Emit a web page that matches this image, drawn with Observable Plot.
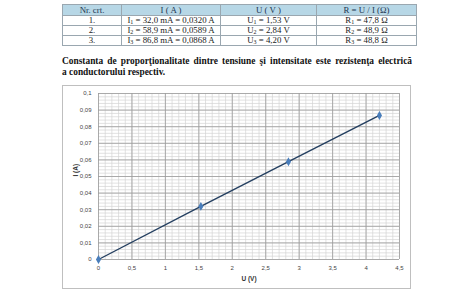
<!DOCTYPE html>
<html><head><meta charset="utf-8">
<script src="https://cdn.jsdelivr.net/npm/d3@7"></script>
<script src="https://cdn.jsdelivr.net/npm/@observablehq/plot@0.6"></script>
<style>
html,body{margin:0;padding:0;background:#fff;width:474px;height:294px;overflow:hidden;}
#tbl{position:absolute;left:62px;top:4px;border-collapse:collapse;font-family:"Liberation Serif",serif;font-size:8.8px;color:#222;}
#tbl td,#tbl th{border:1px solid #9aa7b0;padding:0;height:9px;line-height:9px;text-align:center;font-weight:normal;}
#tbl th{background:#b7d7e6;color:#1c3550;height:10px;}
#tbl sub{font-size:6px;vertical-align:-1px;line-height:0;}
#txt{position:absolute;left:62px;top:56px;width:350px;font-family:"Liberation Serif",serif;font-weight:bold;font-size:9.4px;line-height:11px;color:#111;}
#l1{text-align:justify;text-align-last:justify;white-space:nowrap;}
#frame{position:absolute;left:62px;top:85px;width:347px;height:202px;border:1px solid #bfbfbf;}
#frame svg{display:block;}
</style></head><body>
<table id="tbl"></table>
<div id="txt"><div id="l1">Constanta de proporţionalitate dintre tensiune şi intensitate este rezistenţa electrică</div><div>a conductorului respectiv.</div></div>
<div id="frame"></div>
<script>
const nrs = ["1.", "2.", "3."];
const currents_mA = ["32,0", "58,9", "86,8"];
const currents_A = [0.0320, 0.0589, 0.0868];
const voltages = [1.53, 2.84, 4.20];
const resistances = ["47,8", "48,9", "48,8"];
const headers = ["Nr. crt.", "I ( A )", "U ( V )", "R = U / I (Ω)"];
const colWidths = [58, 98, 95, 99];
const xTicks = [0, 0.5, 1, 1.5, 2, 2.5, 3, 3.5, 4, 4.5];
const yTicks = [0, 0.01, 0.02, 0.03, 0.04, 0.05, 0.06, 0.07, 0.08, 0.09, 0.1];

// table
const tbl = document.getElementById("tbl");
let h = "<tr>" + headers.map((t,i)=>`<th style="width:${colWidths[i]}px">${t}</th>`).join("") + "</tr>";
nrs.forEach((n,i)=>{
  const k = i+1;
  const a = currents_A[i].toFixed(4).replace(".", ",");
  const u = voltages[i].toFixed(2).replace(".", ",");
  h += `<tr><td>${n}</td><td>I<sub>${k}</sub> = ${currents_mA[i]} mA = ${a} A</td><td>U<sub>${k}</sub> = ${u} V</td><td>R<sub>${k}</sub> = ${resistances[i]} Ω</td></tr>`;
});
tbl.innerHTML = h;

// chart data: origin plus measurements
const pts = [{u:0, i:0}].concat(voltages.map((v,k)=>({u:v, i:currents_A[k]})));
const comma = d => String(+d.toFixed(3)).replace(".", ",");
const minorX = d3.range(0, 4.5001, 0.1);
const minorY = d3.range(0, 0.1001, 0.002);

const chart = Plot.plot({
  width: 347, height: 202,
  marginLeft: 35, marginRight: 11, marginTop: 7, marginBottom: 29,
  style: {fontFamily: "'Liberation Sans', sans-serif", fontSize: "6px", color: "#444"},
  x: {domain: [0, 4.5], ticks: xTicks, tickFormat: comma, tickSize: 0, tickPadding: 6, label: null},
  y: {domain: [0, 0.1], ticks: yTicks, tickFormat: comma, tickSize: 0, tickPadding: 7, label: null},
  marks: [
    Plot.ruleX(minorX, {stroke: "#d4d4d4", strokeWidth: 0.7}),
    Plot.ruleY(minorY, {stroke: "#d4d4d4", strokeWidth: 0.7}),
    Plot.ruleX(xTicks, {stroke: "#9c9c9c", strokeWidth: 0.8}),
    Plot.ruleY(yTicks, {stroke: "#9c9c9c", strokeWidth: 0.8}),
    Plot.line(pts, {x: "u", y: "i", stroke: "#243f60", strokeWidth: 1.4}),
    Plot.dot(pts, {x: "u", y: "i", symbol: "diamond", r: 1.8, fill: "#4a7ebb", stroke: "#4a7ebb"}),
    Plot.text(["U (V)"], {frameAnchor: "bottom", dx: 0, dy: 21, text: d => d, fontWeight: "bold", fill: "#333", fontSize: 6.5}),
    Plot.text(["I (A)"], {frameAnchor: "left", dx: -23, dy: 0, rotate: -90, text: d => d, fontWeight: "bold", fill: "#333", fontSize: 6.5})
  ]
});
document.getElementById("frame").appendChild(chart);
</script>
</body></html>
